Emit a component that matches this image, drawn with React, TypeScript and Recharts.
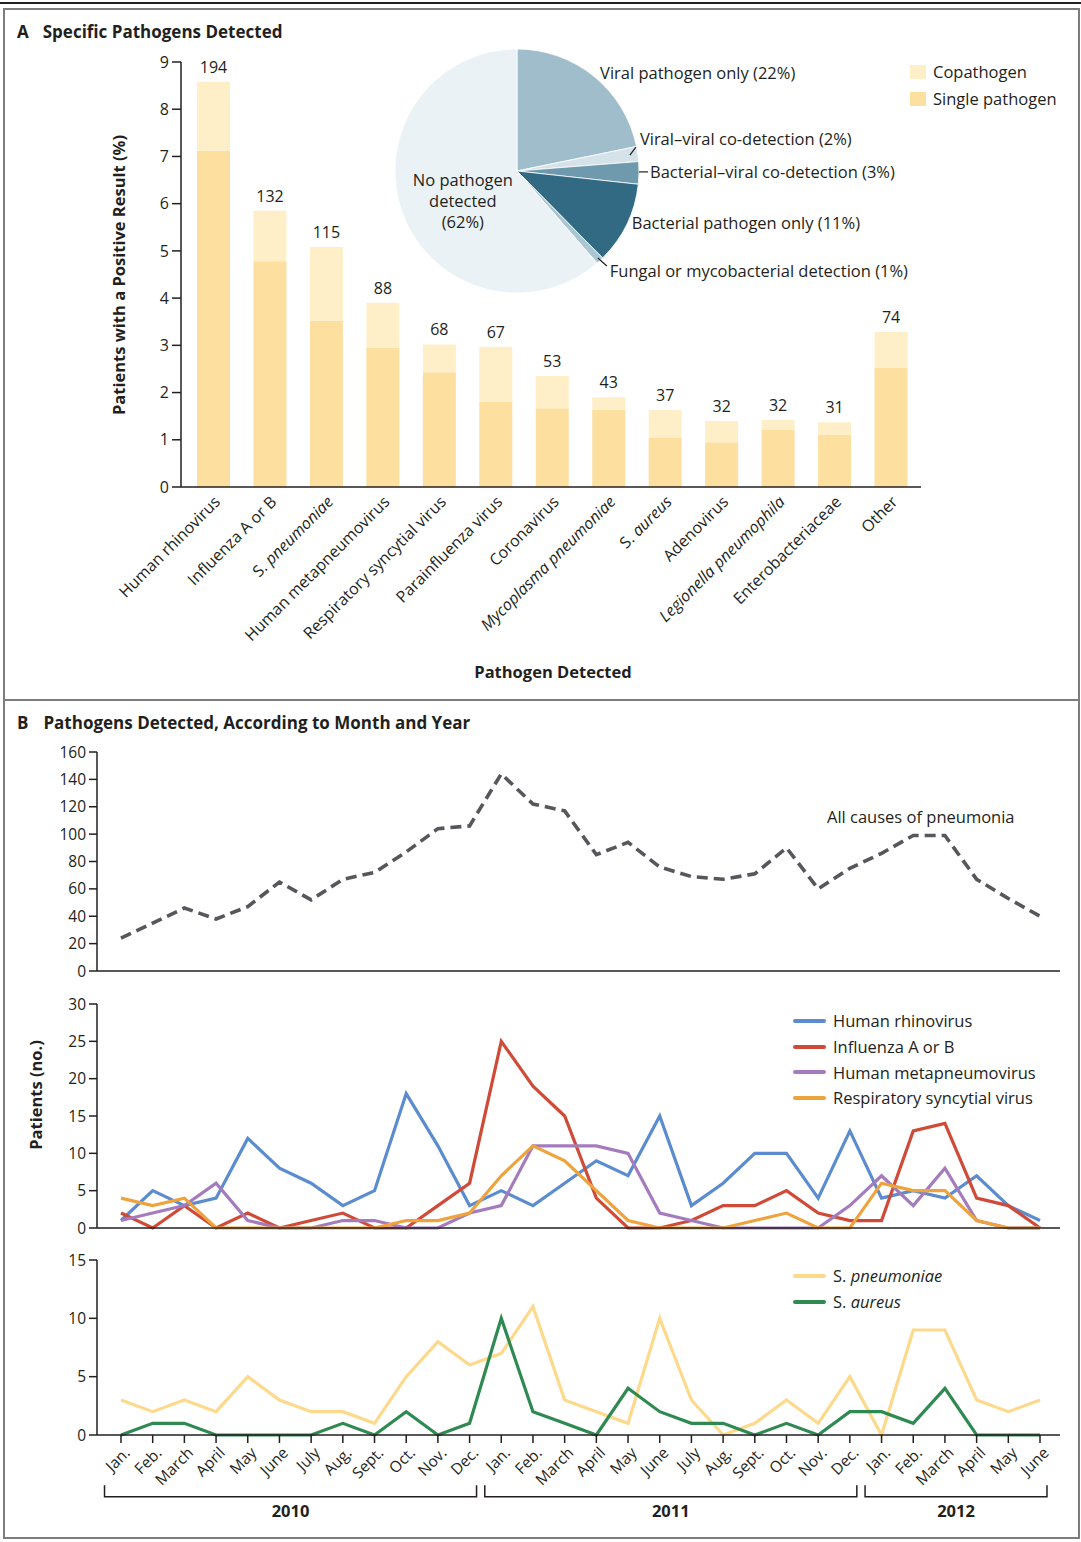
import React from "react";
import {
  BarChart,
  Bar,
  XAxis,
  YAxis,
  LabelList,
  PieChart,
  Pie,
  Cell,
  LineChart,
  Line,
  ReferenceArea,
} from "recharts";

// ---- Panel A: pathogens (percent of patients) ----
const pathogens = [
  "Human rhinovirus",
  "Influenza A or B",
  "S. pneumoniae",
  "Human metapneumovirus",
  "Respiratory syncytial virus",
  "Parainfluenza virus",
  "Coronavirus",
  "Mycoplasma pneumoniae",
  "S. aureus",
  "Adenovirus",
  "Legionella pneumophila",
  "Enterobacteriaceae",
  "Other",
];
const totalPct = [8.58, 5.85, 5.08, 3.9, 3.02, 2.97, 2.35, 1.9, 1.63, 1.4, 1.42, 1.37, 3.28];
const singlePct = [7.12, 4.78, 3.52, 2.95, 2.43, 1.8, 1.67, 1.63, 1.04, 0.95, 1.22, 1.1, 2.52];
const patientCounts = [194, 132, 115, 88, 68, 67, 53, 43, 37, 32, 32, 31, 74];
const italicNames = ["Mycoplasma pneumoniae", "Legionella pneumophila"];

// ---- Panel A: pie ----
const pieGroups = [
  "Viral pathogen only",
  "Viral\u2013viral co-detection",
  "Bacterial\u2013viral co-detection",
  "Bacterial pathogen only",
  "Fungal or mycobacterial detection",
  "No pathogen detected",
];
const piePct = [22, 2, 3, 11, 1, 62];

// ---- Panel B: monthly counts, Jan 2010 - June 2012 ----
const monthLabels = [
  "Jan.", "Feb.", "March", "April", "May", "June", "July", "Aug.", "Sept.", "Oct.", "Nov.", "Dec.",
  "Jan.", "Feb.", "March", "April", "May", "June", "July", "Aug.", "Sept.", "Oct.", "Nov.", "Dec.",
  "Jan.", "Feb.", "March", "April", "May", "June",
];
const allCauses = [24, 35, 46, 38, 47, 65, 52, 67, 72, 87, 104, 106, 144, 122, 117, 85, 94, 76, 69, 67, 71, 90, 60, 75, 86, 99, 99, 67, 53, 40];
const rhino = [1, 5, 3, 4, 12, 8, 6, 3, 5, 18, 11, 3, 5, 3, 6, 9, 7, 15, 3, 6, 10, 10, 4, 13, 4, 5, 4, 7, 3, 1];
const flu = [2, 0, 3, 0, 2, 0, 1, 2, 0, 0, 3, 6, 25, 19, 15, 4, 0, 0, 1, 3, 3, 5, 2, 1, 1, 13, 14, 4, 3, 0];
const hmpv = [1, 2, 3, 6, 1, 0, 0, 1, 1, 0, 0, 2, 3, 11, 11, 11, 10, 2, 1, 0, 0, 0, 0, 3, 7, 3, 8, 1, 0, 0];
const rsv = [4, 3, 4, 0, 0, 0, 0, 0, 0, 1, 1, 2, 7, 11, 9, 5, 1, 0, 0, 0, 1, 2, 0, 0, 6, 5, 5, 1, 0, 0];
const spneu = [3, 2, 3, 2, 5, 3, 2, 2, 1, 5, 8, 6, 7, 11, 3, 2, 1, 10, 3, 0, 1, 3, 1, 5, 0, 9, 9, 3, 2, 3];
const saureus = [0, 1, 1, 0, 0, 0, 0, 1, 0, 2, 0, 1, 10, 2, 1, 0, 4, 2, 1, 1, 0, 1, 0, 2, 2, 1, 4, 0, 0, 0];
const years = ["2010", "2011", "2012"];
const yearFirstMonth = [0, 12, 24];
const yearLastMonth = [11, 23, 29];

// styles
const INK = "#231f20";
const FRAME = "#7d7d7d";
const SINGLE = "#fddfa0";
const COPATH = "#feefc9";
const pieColors = ["#a0bdcb", "#d6e2ea", "#6f9aae", "#316a82", "#a9c6d2", "#eaf2f6"];

const virusSeries = [
  { key: "rhino", name: "Human rhinovirus", color: "#5b8ccf" },
  { key: "flu", name: "Influenza A or B", color: "#d04b37" },
  { key: "hmpv", name: "Human metapneumovirus", color: "#a47cbd" },
  { key: "rsv", name: "Respiratory syncytial virus", color: "#eea33c" },
];
const bacteriaSeries = [
  { key: "spneu", name: "S. pneumoniae", color: "#fdd98c" },
  { key: "saureus", name: "S. aureus", color: "#2f8a52" },
];

const barRows = pathogens.map((name, i) => ({
  name,
  single: singlePct[i],
  co: +(totalPct[i] - singlePct[i]).toFixed(2),
  count: patientCounts[i],
}));
const pieRows = pieGroups.map((name, i) => ({ name, value: piePct[i] }));
const monthRows = monthLabels.map((m, i) => ({
  i,
  m,
  all: allCauses[i],
  rhino: rhino[i],
  flu: flu[i],
  hmpv: hmpv[i],
  rsv: rsv[i],
  spneu: spneu[i],
  saureus: saureus[i],
}));
const monthTicks = monthRows.map((r) => r.i);

// SVG version: genus abbreviations roman, species italic
function renderName(name: string) {
  if (italicNames.includes(name)) return <tspan fontStyle="italic">{name}</tspan>;
  if (name.startsWith("S. "))
    return (
      <>
        <tspan>S. </tspan>
        <tspan fontStyle="italic">{name.slice(3)}</tspan>
      </>
    );
  return name;
}

// HTML version for the legends
function renderNameHtml(name: string) {
  if (italicNames.includes(name)) return <i>{name}</i>;
  if (name.startsWith("S. "))
    return (
      <>
        S. <i>{name.slice(3)}</i>
      </>
    );
  return name;
}

const PathogenTick = (props: any) => {
  const { x, y, payload } = props;
  const ax = x + 4;
  const ay = y + 10;
  return (
    <text
      x={ax}
      y={ay}
      dy="0.35em"
      textAnchor="end"
      fontSize={16}
      fill={INK}
      transform={`rotate(-45 ${ax} ${ay})`}
    >
      {renderName(payload.value)}
    </text>
  );
};

const MonthTick = (props: any) => {
  const { x, y, payload } = props;
  const ax = x + 6;
  const ay = y + 7;
  return (
    <text
      x={ax}
      y={ay}
      dy="0.35em"
      textAnchor="end"
      fontSize={15.5}
      fill={INK}
      transform={`rotate(-45 ${ax} ${ay})`}
    >
      {monthLabels[payload.value]}
    </text>
  );
};

// label placement per pie slice, relative to the slice's outer mid point
const pieLabelLayout: any[] = [
  { dx: 6, dy: -4 },
  { r: -8, lead: [6, -8], dx: 10, dy: -17 },
  { r: 0, lead: [9, -1], from: [0, -1], dx: 11, dy: -1 },
  { dx: 5, dy: -2 },
  { r: 0, lead: [7, 5.5], from: [-2, -2.5], dx: 10, dy: 9.5 },
  { inner: 0.5, dx: 3, dy: 9, lines: ["No pathogen", "detected"] },
];

const RAD = Math.PI / 180;
const PIE_FONT = 16.5;
const renderPieLabel = (p: any) => {
  const { cx, cy, midAngle, outerRadius, index, name, value } = p;
  const cfg = pieLabelLayout[index];
  const r = cfg.inner ? outerRadius * cfg.inner : outerRadius + (cfg.r || 0);
  const px = cx + r * Math.cos(-midAngle * RAD);
  const py = cy + r * Math.sin(-midAngle * RAD);
  if (cfg.lines) {
    const lines = [...cfg.lines, `(${value}%)`];
    return (
      <text x={px + cfg.dx} y={py + cfg.dy} textAnchor="middle" fontSize={PIE_FONT} fill={INK}>
        {lines.map((l: string, k: number) => (
          <tspan key={k} x={px + cfg.dx} dy={k === 0 ? "-0.95em" : "1.28em"}>
            {l}
          </tspan>
        ))}
      </text>
    );
  }
  const fx = px + (cfg.from ? cfg.from[0] : 0);
  const fy = py + (cfg.from ? cfg.from[1] : 0);
  return (
    <g>
      {cfg.lead && (
        <line x1={fx} y1={fy} x2={px + cfg.lead[0]} y2={py + cfg.lead[1]} stroke={INK} strokeWidth={1.2} />
      )}
      <text
        x={px + cfg.dx}
        y={py + cfg.dy}
        dominantBaseline="central"
        textAnchor="start"
        fontSize={PIE_FONT}
        fill={INK}
      >
        {`${name} (${value}%)`}
      </text>
    </g>
  );
};

const YearBracket = (props: any) => {
  const { x, y, width, height, year } = props;
  const x2 = x + width;
  const y2 = y + height;
  return (
    <g>
      <path
        d={`M${x},${y} L${x},${y2} L${x2},${y2} L${x2},${y}`}
        fill="none"
        stroke={INK}
        strokeWidth={1.5}
      />
      <text x={x + width / 2} y={y2 + 20} textAnchor="middle" fontSize={16.5} fontWeight={700} fill={INK}>
        {year}
      </text>
    </g>
  );
};

const yTick = { fontSize: 15.5, fill: INK };

function SeriesLegend({ series, top }: { series: any[]; top: number }) {
  return (
    <div style={{ position: "absolute", left: 793, top }}>
      {series.map((s) => (
        <div key={s.key} style={{ display: "flex", alignItems: "center", height: 25.7, whiteSpace: "nowrap" }}>
          <span
            style={{
              display: "inline-block",
              width: 33,
              height: 4,
              borderRadius: 2,
              background: s.color,
              marginRight: 7,
            }}
          />
          <span style={{ fontSize: 16.5 }}>{renderNameHtml(s.name)}</span>
        </div>
      ))}
    </div>
  );
}

function abs(left: number, top: number): React.CSSProperties {
  return { position: "absolute", left, top };
}

export default function App() {
  return (
    <div
      style={{
        position: "absolute",
        left: 0,
        top: 0,
        width: 1081,
        height: 1542,
        background: "#fff",
        fontFamily: "'Open Sans', sans-serif",
        color: INK,
        overflow: "hidden",
      }}
    >
      {/* frame */}
      <div style={{ position: "absolute", left: 0, top: 2, width: 1081, height: 2, background: INK }} />
      <div
        style={{
          position: "absolute",
          left: 3,
          top: 8,
          width: 1077,
          height: 1531,
          border: `2px solid ${FRAME}`,
          boxSizing: "border-box",
        }}
      />
      <div style={{ position: "absolute", left: 3, top: 699, width: 1077, height: 2, background: FRAME }} />

      {/* Panel A */}
      <div style={{ ...abs(17, 20), fontSize: 17, fontWeight: 700 }}>
        A<span style={{ marginLeft: 14 }}>Specific Pathogens Detected</span>
      </div>
      <div style={abs(0, 0)}>
        <BarChart width={1081} height={700} data={barRows} margin={{ top: 62, right: 160, left: 121, bottom: 63 }}>
          <XAxis
            dataKey="name"
            interval={0}
            height={150}
            tickLine={false}
            tickSize={0}
            tick={<PathogenTick />}
            stroke={INK}
            strokeWidth={1.5}
            padding={{ left: 4, right: 2 }}
          />
          <YAxis
            width={60}
            domain={[0, 9]}
            ticks={[0, 1, 2, 3, 4, 5, 6, 7, 8, 9]}
            interval={0}
            tickSize={9}
            tickMargin={3}
            tick={{ fontSize: 16, fill: INK }}
            stroke={INK}
            strokeWidth={1.5}
          />
          <Bar dataKey="single" name="Single pathogen" stackId="p" fill={SINGLE} barSize={33} isAnimationActive={false} />
          <Bar dataKey="co" name="Copathogen" stackId="p" fill={COPATH} barSize={33} isAnimationActive={false}>
            <LabelList dataKey="count" position="top" offset={9} fontSize={16} fill={INK} />
          </Bar>
        </BarChart>
      </div>
      <div
        style={{
          ...abs(118, 275),
          transform: "translate(-50%, -50%) rotate(-90deg)",
          whiteSpace: "nowrap",
          fontSize: 16.5,
          fontWeight: 700,
        }}
      >
        Patients with a Positive Result (%)
      </div>
      <div style={{ ...abs(553, 671), transform: "translate(-50%, -50%)", fontSize: 16.5, fontWeight: 700 }}>
        Pathogen Detected
      </div>
      <div style={abs(317, 0)}>
        <PieChart width={764} height={320} margin={{ top: 0, right: 0, bottom: 0, left: 0 }}>
          <Pie
            data={pieRows}
            dataKey="value"
            nameKey="name"
            cx={200}
            cy={171}
            outerRadius={122}
            startAngle={90}
            endAngle={-270}
            stroke="#fff"
            strokeWidth={0.8}
            label={renderPieLabel}
            labelLine={false}
            isAnimationActive={false}
          >
            {pieRows.map((r, i) => (
              <Cell key={r.name} fill={pieColors[i]} />
            ))}
          </Pie>
        </PieChart>
      </div>
      <div style={abs(910, 58)}>
        {[
          { label: "Copathogen", color: COPATH },
          { label: "Single pathogen", color: SINGLE },
        ].map((l) => (
          <div key={l.label} style={{ display: "flex", alignItems: "center", height: 27, whiteSpace: "nowrap" }}>
            <span style={{ width: 16, height: 14, background: l.color, marginRight: 7, display: "inline-block" }} />
            <span style={{ fontSize: 16.5 }}>{l.label}</span>
          </div>
        ))}
      </div>

      {/* Panel B */}
      <div style={{ ...abs(17, 711), fontSize: 17, fontWeight: 700 }}>
        B<span style={{ marginLeft: 15 }}>Pathogens Detected, According to Month and Year</span>
      </div>
      <div
        style={{
          ...abs(35, 1095),
          transform: "translate(-50%, -50%) rotate(-90deg)",
          whiteSpace: "nowrap",
          fontSize: 16.5,
          fontWeight: 700,
        }}
      >
        Patients (no.)
      </div>

      <div style={abs(0, 736)}>
        <LineChart width={1081} height={254} data={monthRows} margin={{ top: 16, right: 21, left: 37, bottom: 7 }}>
          <XAxis
            dataKey="i"
            type="number"
            domain={[0, 29]}
            ticks={monthTicks}
            interval={0}
            tick={false}
            tickSize={8}
            height={12}
            padding={{ left: 24, right: 20 }}
            stroke={INK}
            strokeWidth={1.5}
          />
          <YAxis
            width={60}
            domain={[0, 160]}
            ticks={[0, 20, 40, 60, 80, 100, 120, 140, 160]}
            interval={0}
            tickSize={8}
            tickMargin={3}
            tick={yTick}
            stroke={INK}
            strokeWidth={1.5}
          />
          <Line
            dataKey="all"
            type="linear"
            stroke="#55575b"
            strokeWidth={3.6}
            strokeDasharray="11 6"
            dot={false}
            isAnimationActive={false}
          />
        </LineChart>
      </div>
      <div style={{ ...abs(827, 816), transform: "translateY(-50%)", fontSize: 16.5, whiteSpace: "nowrap" }}>
        All causes of pneumonia
      </div>

      <div style={abs(0, 990)}>
        <LineChart width={1081} height={255} data={monthRows} margin={{ top: 14, right: 21, left: 37, bottom: 5 }}>
          <XAxis
            dataKey="i"
            type="number"
            domain={[0, 29]}
            ticks={monthTicks}
            interval={0}
            tick={false}
            tickSize={8}
            height={12}
            padding={{ left: 24, right: 20 }}
            stroke={INK}
            strokeWidth={1.5}
          />
          <YAxis
            width={60}
            domain={[0, 30]}
            ticks={[0, 5, 10, 15, 20, 25, 30]}
            interval={0}
            tickSize={8}
            tickMargin={3}
            tick={yTick}
            stroke={INK}
            strokeWidth={1.5}
          />
          {virusSeries.map((s) => (
            <Line
              key={s.key}
              dataKey={s.key}
              name={s.name}
              type="linear"
              stroke={s.color}
              strokeWidth={3.2}
              dot={false}
              isAnimationActive={false}
            />
          ))}
        </LineChart>
      </div>
      <SeriesLegend series={virusSeries} top={1008} />

      <div style={abs(0, 1246)}>
        <LineChart width={1081} height={296} data={monthRows} margin={{ top: 14, right: 21, left: 37, bottom: 47 }}>
          <XAxis
            dataKey="i"
            type="number"
            domain={[0, 29]}
            ticks={monthTicks}
            interval={0}
            tick={<MonthTick />}
            tickSize={8}
            tickMargin={0}
            height={60}
            padding={{ left: 24, right: 20 }}
            stroke={INK}
            strokeWidth={1.5}
          />
          <YAxis
            width={60}
            domain={[0, 15]}
            ticks={[0, 5, 10, 15]}
            interval={0}
            tickSize={8}
            tickMargin={3}
            tick={yTick}
            stroke={INK}
            strokeWidth={1.5}
          />
          {bacteriaSeries.map((s) => (
            <Line
              key={s.key}
              dataKey={s.key}
              name={s.name}
              type="linear"
              stroke={s.color}
              strokeWidth={3.2}
              dot={false}
              isAnimationActive={false}
            />
          ))}
          {years.map((yr, k) => (
            <ReferenceArea
              key={yr}
              x1={yearFirstMonth[k] - 0.52}
              x2={yearLastMonth[k] + 0.22}
              y1={-4.3}
              y2={-5.3}
              ifOverflow="visible"
              shape={(p: any) => <YearBracket {...p} year={yr} />}
            />
          ))}
        </LineChart>
      </div>
      <SeriesLegend series={bacteriaSeries} top={1263} />
    </div>
  );
}
